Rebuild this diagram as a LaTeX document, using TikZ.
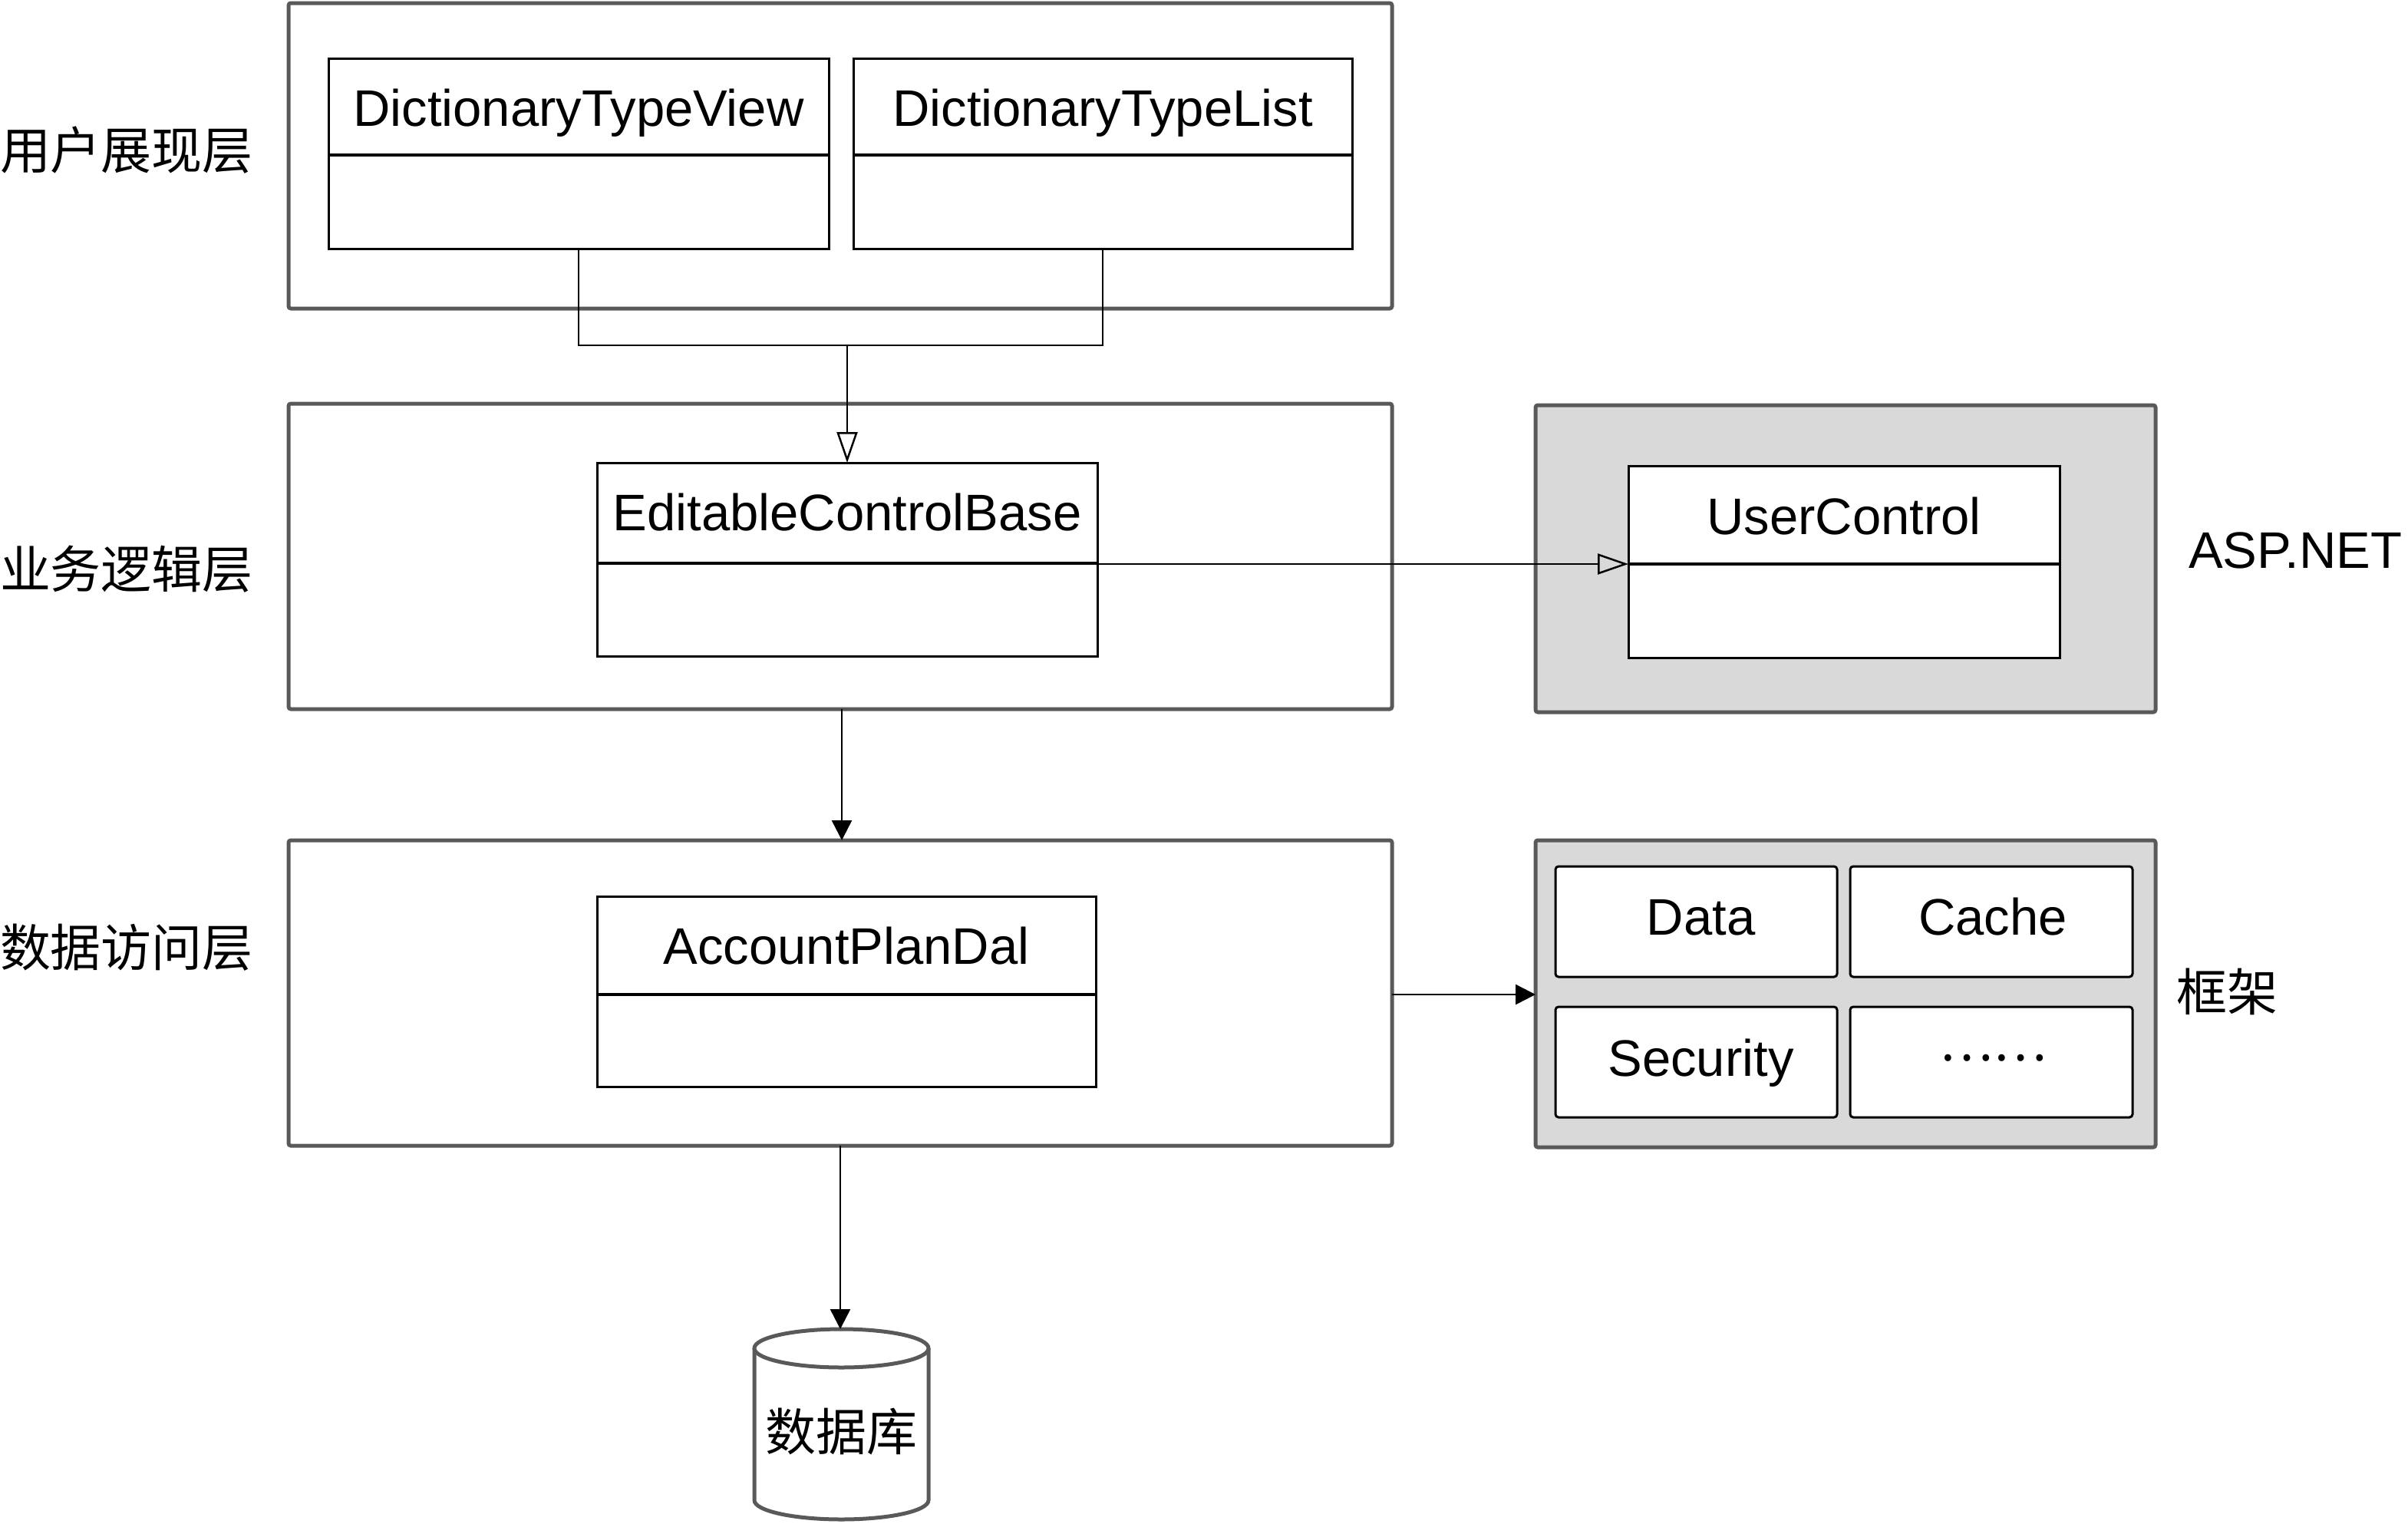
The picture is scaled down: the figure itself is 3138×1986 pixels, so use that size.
\documentclass[tikz,border=0pt]{standalone}
\usepackage{fontspec}
\setmainfont{Liberation Sans}
\newfontfamily\cjk{Noto Sans CJK SC}
\usetikzlibrary{arrows.meta}
\definecolor{laygray}{HTML}{595959}
\definecolor{fillgray}{HTML}{D9D9D9}
\begin{document}
\begin{tikzpicture}[x=1pt,y=-1pt,
  every node/.style={inner sep=0pt, outer sep=0pt},
  txt/.style={font=\fontsize{67}{80}\selectfont},
  cjktxt/.style={font=\fontsize{66}{79}\selectfont\cjk},
  layer/.style={draw=laygray, line width=5pt, rounded corners=3pt, anchor=north west},
  frame/.style={layer, fill=fillgray},
  cls/.style={draw=black, line width=3pt, fill=white, anchor=north west},
  div/.style={line width=4.5pt},
  conn/.style={line width=2.5pt},
  inherit/.style={conn, -{Triangle[open, length=40pt, width=27pt]}},
  flow/.style={conn, -{Triangle[length=26pt, width=26pt]}},
  cell/.style={draw=black, line width=3pt, fill=white, rounded corners=4pt, anchor=north west},
  dbline/.style={draw=laygray, line width=5pt}]
\useasboundingbox (0,0) rectangle (3138,1986);

% layer boxes
\node[layer, minimum width=1438pt, minimum height=398pt] (top) at (376,4) {};
\node[layer, minimum width=1438pt, minimum height=398pt] (mid) at (376,526) {};
\node[layer, minimum width=1438pt, minimum height=398pt] (bot) at (376,1095) {};
\node[frame, minimum width=808pt, minimum height=400pt] (asp) at (2001,528) {};
\node[frame, minimum width=808pt, minimum height=400pt] (fw) at (2001,1095) {};

% layer labels
\node[cjktxt, anchor=west] (l1) at (0,196) {用户展现层};
\node[cjktxt, anchor=west] (l2) at (0,742) {业务逻辑层};
\node[cjktxt, anchor=west] (l3) at (0,1235) {数据访问层};
\node[txt, anchor=base west] (laspnet) at (2852,740) {ASP.NET};
\node[cjktxt, anchor=west] (lfw) at (2836,1292) {框架};

% class boxes
\node[cls, minimum width=652pt, minimum height=248pt] (dtv) at (428,76) {};
\draw[div] (dtv.west |- 0,202) -- (dtv.east |- 0,202);
\node[txt, anchor=base] (tdtv) at (dtv.north |- 0,164) {DictionaryTypeView};

\node[cls, minimum width=650pt, minimum height=248pt] (dtl) at (1112,76) {};
\draw[div] (dtl.west |- 0,202) -- (dtl.east |- 0,202);
\node[txt, anchor=base] (tdtl) at (dtl.north |- 0,164) {DictionaryTypeList};

\node[cls, minimum width=652pt, minimum height=252pt] (ecb) at (778,603) {};
\draw[div] (ecb.west |- 0,734) -- (ecb.east |- 0,734);
\node[txt, anchor=base] (tecb) at (ecb.north |- 0,691) {EditableControlBase};

\node[cls, minimum width=562pt, minimum height=250pt] (uc) at (2122,607) {};
\draw[div] (uc.west |- 0,735) -- (uc.east |- 0,735);
\node[txt, anchor=base] (tuc) at (uc.north |- 0,696) {UserControl};

\node[cls, minimum width=650pt, minimum height=248pt] (apd) at (778,1168) {};
\draw[div] (apd.west |- 0,1296) -- (apd.east |- 0,1296);
\node[txt, anchor=base] (tapd) at (apd.north |- 0,1256) {AccountPlanDal};

% framework cells
\node[cell, minimum width=367pt, minimum height=144pt] (cdata) at (2027,1129) {};
\node[txt, anchor=base] (tdata) at ([xshift=6pt]cdata.north |- 0,1218) {Data};
\node[cell, minimum width=368pt, minimum height=144pt] (ccache) at (2411,1129) {};
\node[txt, anchor=base] (tcache) at ([xshift=2pt]ccache.north |- 0,1218) {Cache};
\node[cell, minimum width=367pt, minimum height=144pt] (csec) at (2027,1312) {};
\node[txt, anchor=base] (tsec) at ([xshift=6pt]csec.north |- 0,1402) {Security};
\node[cell, minimum width=368pt, minimum height=144pt] (cmore) at (2411,1312) {};
\node[cjktxt] (tmore) at ([xshift=2pt]cmore.center |- 0,1379) {……};

% database
\coordinate (dbtop) at (1096.5,1732);
\draw[dbline, fill=white] (983,1757) -- (983,1955)
  arc[start angle=180, end angle=360, x radius=113.5pt, y radius=25pt] -- (1210,1757);
\draw[dbline, fill=white] (1096.5,1757) ellipse [x radius=113.5pt, y radius=25pt];
\node[cjktxt] (db) at (1096.5,1866) {数据库};

% connectors
\coordinate (jn) at (ecb.north |- 0,450);
\draw[conn] (dtv.south) |- (jn);
\draw[conn] (dtl.south) |- (jn);
\draw[inherit] (jn) -- (ecb.north);
\coordinate (ucd) at (uc.west |- 0,735);
\draw[inherit] (ecb.east |- ucd) -- (ucd);
\coordinate (midb) at (1097,924);
\draw[flow] (midb) -- (midb |- bot.north);
\draw[flow] (bot.east |- 0,1296) -- (fw.west |- 0,1296);
\draw[flow] (bot.south) -- (bot.south |- dbtop);
\end{tikzpicture}
\end{document}
